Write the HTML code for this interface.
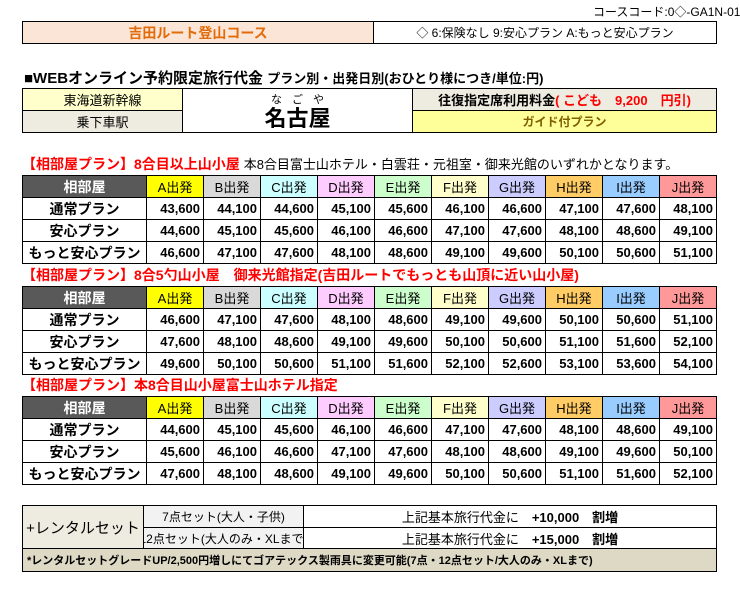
<!DOCTYPE html>
<html><head><meta charset="utf-8">
<style>
body{margin:0;width:740px;height:595px;background:#fff;position:relative;overflow:hidden;font-family:"Liberation Sans","Noto Sans CJK JP",sans-serif;}
.a{position:absolute;box-sizing:border-box;display:flex;align-items:center;justify-content:center;white-space:nowrap;overflow:hidden;}
.t{position:absolute;white-space:nowrap;}
.cell{border:1px solid #000;margin:0 -1px -1px 0;}
</style></head><body>
<div class="t" style="left:593px;top:3px;font-size:12px;">コースコード:0◇-GA1N-01</div>
<div class="a cell" style="left:22px;top:21px;width:352px;height:23px;background:#fbe5d6;color:#e26b0a;font-size:14px;font-weight:bold;">吉田ルート登山コース</div>
<div class="a cell" style="left:373px;top:21px;width:344px;height:23px;font-size:12px;">◇ 6:保険なし 9:安心プラン A:もっと安心プラン</div>
<div class="t" style="left:24px;top:67px;font-size:15px;font-weight:bold;">■WEBオンライン予約限定旅行代金 <span style="font-size:13px;">プラン別・出発日別(おひとり様につき/単位:円)</span></div>
<div class="a cell" style="left:22px;top:88px;width:161px;height:23px;background:#ffffcc;font-size:13px;">東海道新幹線</div>
<div class="a cell" style="left:22px;top:110px;width:161px;height:23px;background:#eeece1;font-size:13px;">乗下車駅</div>
<div class="a cell" style="left:182px;top:88px;width:231px;height:45px;flex-direction:column;"><div style="font-size:11px;letter-spacing:10px;margin-left:10px;">なごや</div><div style="font-size:22px;font-weight:bold;line-height:24px;">名古屋</div></div>
<div class="a cell" style="left:412px;top:88px;width:305px;height:23px;background:#eeece1;font-size:13px;font-weight:bold;">往復指定席利用料金<span style="color:#f00;">( こども　9,200　円引)</span></div>
<div class="a cell" style="left:412px;top:110px;width:305px;height:23px;background:#ffff99;color:#7f6000;font-size:12px;font-weight:bold;">ガイド付プラン</div>
<div id="tables"></div>
<div class="a cell" style="left:22px;top:505px;width:122px;height:44px;background:#eeece1;font-size:15px;">+レンタルセット</div>
<div class="a cell" style="left:143px;top:505px;width:161px;height:23px;background:#f2f2f2;font-size:12px;">7点セット(大人・子供)</div>
<div class="a cell" style="left:143px;top:527px;width:161px;height:22px;background:#f2f2f2;font-size:12px;">12点セット(大人のみ・XLまで)</div>
<div class="a cell" style="left:303px;top:505px;width:414px;height:23px;font-size:13px;">上記基本旅行代金に　<b>+10,000　割増</b></div>
<div class="a cell" style="left:303px;top:527px;width:414px;height:22px;font-size:13px;">上記基本旅行代金に　<b>+15,000　割増</b></div>
<div class="a cell" style="left:22px;top:548px;width:695px;height:24px;background:#ddd9c4;font-size:11px;font-weight:bold;justify-content:flex-start;padding-left:4px;">*レンタルセットグレードUP/2,500円増しにてゴアテックス製雨具に変更可能(7点・12点セット/大人のみ・XLまで)</div>
<script>
const depCols=["A出発","B出発","C出発","D出発","E出発","F出発","G出発","H出発","I出発","J出発"];
const depColors=["#ffff00","#d9d9d9","#ccffff","#ffccff","#ccffcc","#ffffcc","#ccccff","#ffcc66","#99ccff","#ff9999"];
const planRows=["通常プラン","安心プラン","もっと安心プラン"];
const titles=[
 '【相部屋プラン】8合目以上山小屋 <span style="color:#000;font-weight:normal;font-size:13px;">本8合目富士山ホテル・白雲荘・元祖室・御来光館のいずれかとなります。</span>',
 '【相部屋プラン】8合5勺山小屋　御来光館指定(吉田ルートでもっとも山頂に近い山小屋)',
 '【相部屋プラン】本8合目山小屋富士山ホテル指定'];
const prices1=[[43600,44100,44600,45100,45600,46100,46600,47100,47600,48100],[44600,45100,45600,46100,46600,47100,47600,48100,48600,49100],[46600,47100,47600,48100,48600,49100,49600,50100,50600,51100]];
const prices2=[[46600,47100,47600,48100,48600,49100,49600,50100,50600,51100],[47600,48100,48600,49100,49600,50100,50600,51100,51600,52100],[49600,50100,50600,51100,51600,52100,52600,53100,53600,54100]];
const prices3=[[44600,45100,45600,46100,46600,47100,47600,48100,48600,49100],[45600,46100,46600,47100,47600,48100,48600,49100,49600,50100],[47600,48100,48600,49100,49600,50100,50600,51100,51600,52100]];
const tableTops=[175,286,396];
const root=document.getElementById('tables');
[prices1,prices2,prices3].forEach((data,ti)=>{
 const top=tableTops[ti];
 const tt=document.createElement('div');
 tt.className='t';
 
 
 tt.style.cssText=`left:22px;top:${top-21}px;font-size:14px;font-weight:bold;color:#f00;`;
 tt.innerHTML=titles[ti];root.appendChild(tt);
 function cell(x,y,w,h,txt,bg,extra,name){
  const d=document.createElement('div');d.className='a cell';
  
  
  d.style.cssText=`left:${x}px;top:${y}px;width:${w+1}px;height:${h+1}px;background:${bg};${extra}`;
  d.textContent=txt;root.appendChild(d);
 }
 cell(22,top,124,22,'相部屋','#595959','color:#fff;font-size:14px;font-weight:bold;','room-header');
 depCols.forEach((c,i)=>cell(146+i*57,top,57,22,c,depColors[i],'font-size:13px;','departure-header'));
 planRows.forEach((p,r)=>{
  const y=top+22+r*22;
  cell(22,y,124,22,p,'#fff','font-size:14px;font-weight:bold;','plan-label');
  data[r].forEach((v,i)=>cell(146+i*57,y,57,22,v.toLocaleString('en-US'),'#fff','font-size:13px;font-weight:bold;justify-content:flex-end;padding-right:3px;','price-cell'));
 });
});
</script>
</body></html>
